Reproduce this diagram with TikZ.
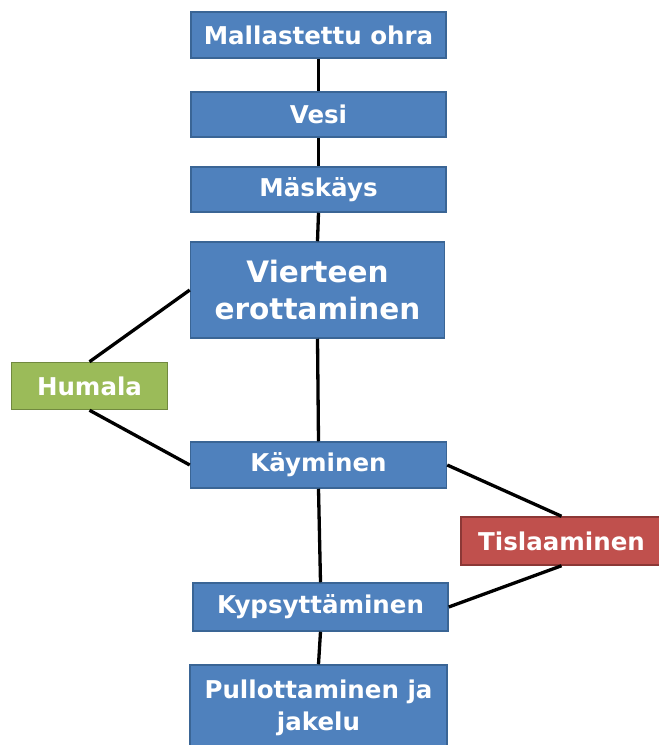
\documentclass[tikz,border=0pt]{standalone}
\usepackage{fontspec}
\setmainfont{DejaVu Sans}
\definecolor{bfill}{HTML}{4F81BD}
\definecolor{bdraw}{HTML}{3A6595}
\definecolor{gfill}{HTML}{9BBB59}
\definecolor{gdraw}{HTML}{71893F}
\definecolor{rfill}{HTML}{C0504D}
\definecolor{rdraw}{HTML}{8C3836}
\tikzset{
  box/.style={rectangle, draw=bdraw, fill=bfill, line width=1.5pt, text=white,
    font=\fontsize{24.5}{32}\selectfont\bfseries, align=center, inner sep=0pt},
  gbox/.style={box, draw=gdraw, fill=gfill},
  rbox/.style={box, draw=rdraw, fill=rfill},
  conn/.style={line width=3.3pt, black}
}
\begin{document}
\begin{tikzpicture}[x=1pt,y=-1pt]
\useasboundingbox (0,0) rectangle (659,745);
\node[box, minimum width=255pt, minimum height=46pt] (mal) at (318.5,35) {Mallastettu ohra};
\node[box, minimum width=255pt, minimum height=45pt] (ves) at (318.5,114.5) {Vesi};
\node[box, minimum width=255pt, minimum height=45pt] (mas) at (318.5,189.5) {Mäskäys};
\node[box, minimum width=254pt, minimum height=96pt, font=\fontsize{29.5}{37}\selectfont\bfseries] (vie) at (317.5,290) {Vierteen\\erottaminen};
\node[gbox, minimum width=156pt, minimum height=47pt] (hum) at (89.5,386) {Humala};
\node[box, minimum width=256pt, minimum height=46pt] (kay) at (318.5,465) {Käyminen};
\node[rbox, minimum width=201pt, minimum height=48pt] (tis) at (561.5,541) {Tislaaminen};
\node[box, minimum width=255pt, minimum height=48pt] (kyp) at (320.5,607) {Kypsyttäminen};
\node[box, minimum width=257pt, minimum height=85pt] (pul) at (318.5,707.5) {Pullottaminen ja\\jakelu};
\draw[conn] (mal.south) -- (ves.north);
\draw[conn] (ves.south) -- (mas.north);
\draw[conn] (mas.south) -- (vie.north);
\draw[conn] (vie.south) -- (kay.north);
\draw[conn] (kay.south) -- (kyp.north);
\draw[conn] (kyp.south) -- (pul.north);
\draw[conn] (hum.north) -- (vie.west);
\draw[conn] (hum.south) -- (kay.west);
\draw[conn] (kay.east) -- (tis.north);
\draw[conn] (tis.south) -- (kyp.east);
\end{tikzpicture}
\end{document}
